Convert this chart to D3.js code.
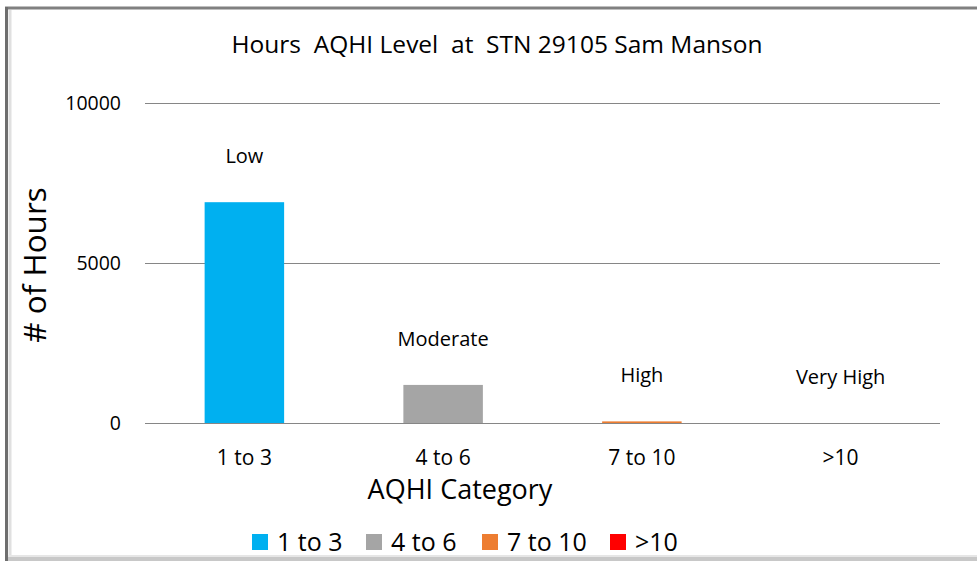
<!DOCTYPE html>
<html>
<head>
<meta charset="utf-8">
<script src="https://cdn.jsdelivr.net/npm/d3@7"></script>
<style>
  body { margin: 0; background: #fff; }
  svg { display: block; }
  text { font-family: "Open Sans", sans-serif; fill: #000; white-space: pre; }
</style>
</head>
<body>
<div id="chart"></div>
<script>
// AQHI hours by category
const categories = ["1 to 3", "4 to 6", "7 to 10", ">10"];
const hours = [6900, 1190, 50, 0];
const levelNames = ["Low", "Moderate", "High", "Very High"];
const colors = ["#00B0F0", "#A5A5A5", "#ED7D31", "#FF0000"];
const yTicks = [0, 5000, 10000];

const width = 977, height = 561;
const margin = {top: 103, right: 37, bottom: 138, left: 145};

const svg = d3.select("#chart").append("svg")
    .attr("width", width)
    .attr("height", height);

// frame (shaded like the original screenshot)
svg.append("line").attr("x1", 5).attr("x2", 977).attr("y1", 8).attr("y2", 8)
    .attr("stroke", "#808080").attr("stroke-width", 3);
svg.append("line").attr("x1", 6.5).attr("x2", 6.5).attr("y1", 7).attr("y2", 561)
    .attr("stroke", "#6e6e6e").attr("stroke-width", 3);
svg.append("line").attr("x1", 10).attr("x2", 10).attr("y1", 10).attr("y2", 556)
    .attr("stroke", "#e0e0e0").attr("stroke-width", 3);
svg.append("rect").attr("x", 8).attr("y", 555).attr("width", 969).attr("height", 6)
    .attr("fill", "#c8c8c8");
svg.append("line").attr("x1", 8).attr("x2", 977).attr("y1", 556).attr("y2", 556)
    .attr("stroke", "#e6e6e6").attr("stroke-width", 2);

const x = d3.scaleBand()
    .domain(categories)
    .range([margin.left, width - margin.right])
    .paddingInner(0.6)
    .paddingOuter(0.3);

const y = d3.scaleLinear()
    .domain([0, 10000])
    .range([height - margin.bottom, margin.top]);

// gridlines
svg.append("g")
    .selectAll("line")
    .data(yTicks)
    .join("line")
    .attr("x1", margin.left)
    .attr("x2", width - margin.right)
    .attr("y1", d => Math.round(y(d)) + 0.5)
    .attr("y2", d => Math.round(y(d)) + 0.5)
    .attr("stroke", "#868686")
    .attr("stroke-width", 1);

// y tick labels
svg.append("g")
    .selectAll("text")
    .data(yTicks)
    .join("text")
    .attr("x", 121)
    .attr("y", d => y(d))
    .attr("dy", "0.35em")
    .attr("text-anchor", "end")
    .style("font-size", "19.5px")
    .text(d => d);

// bars
svg.append("g")
    .selectAll("rect")
    .data(hours)
    .join("rect")
    .attr("x", (d, i) => x(categories[i]))
    .attr("y", d => y(d))
    .attr("width", x.bandwidth())
    .attr("height", d => y(0) - y(d))
    .attr("fill", (d, i) => colors[i]);

// data labels (level names)
svg.append("g")
    .selectAll("text")
    .data(hours)
    .join("text")
    .attr("x", (d, i) => x(categories[i]) + x.bandwidth() / 2)
    .attr("y", d => y(d) - 39)
    .attr("text-anchor", "middle")
    .style("font-size", "20px")
    .text((d, i) => levelNames[i]);

// x tick labels
svg.append("g")
    .selectAll("text")
    .data(categories)
    .join("text")
    .attr("x", d => x(d) + x.bandwidth() / 2)
    .attr("y", 465)
    .attr("text-anchor", "middle")
    .style("font-size", "21px")
    .text(d => d);

// title
svg.append("text")
    .attr("x", 497)
    .attr("y", 53)
    .attr("text-anchor", "middle")
    .style("font-size", "24.5px")
    .text("Hours  AQHI Level  at  STN 29105 Sam Manson");

// axis titles
svg.append("text")
    .attr("x", 460)
    .attr("y", 499)
    .attr("text-anchor", "middle")
    .style("font-size", "27px")
    .text("AQHI Category");

svg.append("text")
    .attr("transform", "translate(46,265) rotate(-90)")
    .attr("text-anchor", "middle")
    .style("font-size", "31.5px")
    .text("# of Hours");

// legend
const legendX = [252, 366, 482, 610];
const legend = svg.append("g")
    .selectAll("g")
    .data(categories)
    .join("g")
    .attr("transform", (d, i) => `translate(${legendX[i]},534)`);

legend.append("rect")
    .attr("width", 16)
    .attr("height", 16)
    .attr("fill", (d, i) => colors[i]);

legend.append("text")
    .attr("x", 25)
    .attr("y", 8)
    .attr("dy", "0.36em")
    .style("font-size", "25px")
    .text(d => d);
</script>
</body>
</html>
